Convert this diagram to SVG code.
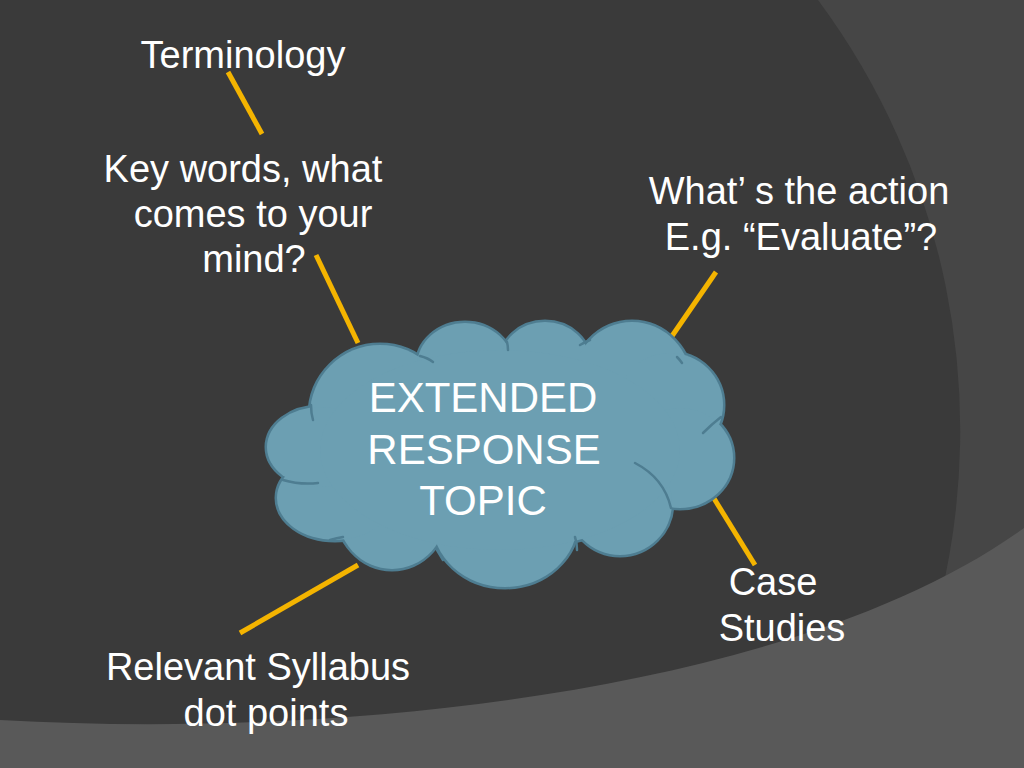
<svg xmlns="http://www.w3.org/2000/svg" xmlns:xlink="http://www.w3.org/1999/xlink" width="1024" height="768" viewBox="0 0 1024 768">
<style>
.lbl{font-family:"Liberation Sans",Arial,sans-serif;font-size:38px;fill:#ffffff;text-anchor:middle}
.big{font-size:42px}
.conn{stroke:#f4b400;stroke-width:5;fill:none;stroke-linecap:butt}
.lobe-o{fill:none;stroke:#4e7d91;stroke-width:5}
.lobe-f{fill:#6c9fb2;stroke:none}
.crease{fill:none;stroke:#4e7d91;stroke-width:2.5;stroke-linecap:round}
</style>
<defs>
<g id="lobes">
<ellipse cx="380" cy="415" rx="70" ry="70"/>
<ellipse cx="465" cy="366" rx="48" ry="43"/>
<ellipse cx="545" cy="363" rx="45" ry="41"/>
<ellipse cx="632" cy="385" rx="60" ry="63"/>
<ellipse cx="670" cy="405" rx="53" ry="52"/>
<ellipse cx="680" cy="458" rx="53" ry="50"/>
<ellipse cx="620" cy="503" rx="52" ry="52"/>
<ellipse cx="505" cy="520" rx="73" ry="67"/>
<ellipse cx="392" cy="508" rx="56" ry="61"/>
<ellipse cx="335" cy="498" rx="58" ry="42"/>
<ellipse cx="320" cy="447" rx="53" ry="40"/>
<ellipse cx="500" cy="450" rx="180" ry="100"/>
</g>
</defs>
<g id="background">
<rect x="0" y="0" width="1024" height="768" fill="#3a3a3a"/>
<path d="M818,0 A722,722 0 0 1 940,600 L1024,600 L1024,0 Z" fill="#464646"/>
<path d="M0,720 C350,740 800,690 1024,528 L1024,768 L0,768 Z" fill="#595959"/>
</g>
<g id="connectors">
<line class="conn" x1="228" y1="72" x2="262" y2="134"/>
<line class="conn" x1="316" y1="255" x2="358" y2="343"/>
<line class="conn" x1="716" y1="272" x2="670" y2="339"/>
<line class="conn" x1="710" y1="492" x2="755" y2="565"/>
<line class="conn" x1="358" y1="565" x2="240" y2="633"/>
</g>
<g id="node-topic">
<use xlink:href="#lobes" class="lobe-o"/>
<use xlink:href="#lobes" class="lobe-f"/>
<path class="crease" d="M635,463 Q664,478 671,508"/>
<path class="crease" d="M703,433 Q712,424 721,417"/>
<path class="crease" d="M283,480 Q300,485 318,483"/>
<path class="crease" d="M311,405 Q311,413 313,420"/>
<path class="crease" d="M420,356 Q428,358 433,362"/>
<path class="crease" d="M507,342 Q508,346 508,350"/>
<path class="crease" d="M580,345 Q585,342 590,340"/>
<path class="crease" d="M677,357 Q680,360 682,363"/>
<path class="crease" d="M575,537 Q577,543 577,550"/>
<path class="crease" d="M437,550 Q440,555 443,560"/>
<path class="crease" d="M330,540 Q337,538 343,537"/>
<text class="lbl big" x="483" y="412">EXTENDED</text>
<text class="lbl big" x="484" y="464">RESPONSE</text>
<text class="lbl big" x="483" y="515">TOPIC</text>
</g>
<g id="node-terminology">
<text class="lbl" x="243" y="68">Terminology</text>
</g>
<g id="node-keywords">
<text class="lbl" x="243" y="182">Key words, what</text>
<text class="lbl" x="253" y="227">comes to your</text>
<text class="lbl" x="254" y="272">mind?</text>
</g>
<g id="node-action">
<text class="lbl" x="799" y="204">What’ s the action</text>
<text class="lbl" x="801" y="250">E.g. “Evaluate”?</text>
</g>
<g id="node-case">
<text class="lbl" x="773" y="595">Case</text>
<text class="lbl" x="782" y="641">Studies</text>
</g>
<g id="node-syllabus">
<text class="lbl" x="258" y="680">Relevant Syllabus</text>
<text class="lbl" x="266" y="726">dot points</text>
</g>
</svg>
